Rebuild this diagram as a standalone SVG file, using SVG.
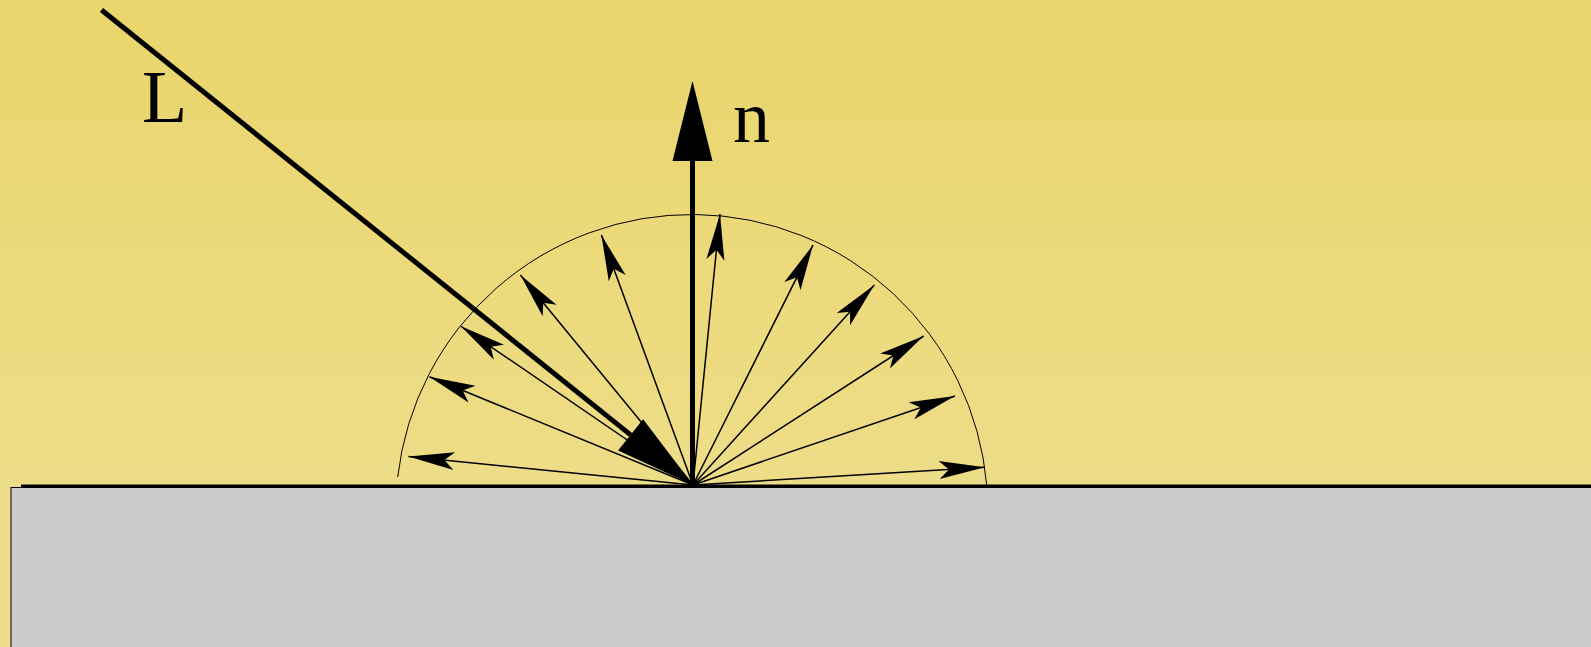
<svg xmlns="http://www.w3.org/2000/svg" width="1591" height="647" viewBox="0 0 1591 647">
  <style>
    .thin { stroke: #000; stroke-width: 1.5; fill: none; marker-end: url(#barb); }
    .thick { stroke: #000; stroke-width: 5; fill: none; marker-end: url(#big); }
    .lbl { font-family: "Liberation Serif", "Times New Roman", serif; font-size: 74px; fill: #000; }
  </style>
  <defs>
    <linearGradient id="bg" x1="0" y1="0" x2="0" y2="486" gradientUnits="userSpaceOnUse">
      <stop offset="0" stop-color="#e9d56b"/>
      <stop offset="1" stop-color="#eedd88"/>
    </linearGradient>
    <marker id="barb" markerUnits="userSpaceOnUse" viewBox="-48 -10 50 20" refX="0" refY="0" markerWidth="50" markerHeight="20" orient="auto" overflow="visible">
      <path d="M0,0 L-46,-9 L-36,0 L-46,9 Z" fill="#000"/>
    </marker>
    <marker id="big" markerUnits="userSpaceOnUse" viewBox="0 -21 82 42" refX="0" refY="0" markerWidth="82" markerHeight="42" orient="auto" overflow="visible">
      <path d="M0,-20 L80,0 L0,20 Z" fill="#000"/>
    </marker>
  </defs>
  <rect id="background" x="0" y="0" width="1591" height="647" fill="url(#bg)"/>
  <g id="surface">
    <rect x="11" y="487.5" width="1590" height="170" fill="#cccccc" stroke="#000" stroke-width="1"/>
    <line x1="21" y1="486" x2="1591" y2="486" stroke="#000" stroke-width="3"/>
  </g>
  <g id="hemisphere">
    <path d="M397.7,477 A296,296 0 0 1 986.7,485" fill="none" stroke="#000" stroke-width="1"/>
  </g>
  <g id="connectors">
    <line class="thin" x1="693" y1="485" x2="408.5" y2="456.5"/>
    <line class="thin" x1="693" y1="485" x2="429.4" y2="376.7"/>
    <line class="thin" x1="693" y1="485" x2="461" y2="326.3"/>
    <line class="thin" x1="693" y1="485" x2="520.4" y2="275"/>
    <line class="thin" x1="693" y1="485" x2="601.4" y2="235"/>
    <line class="thin" x1="693" y1="485" x2="720" y2="214"/>
    <line class="thin" x1="693" y1="485" x2="813" y2="245"/>
    <line class="thin" x1="693" y1="485" x2="874.3" y2="285"/>
    <line class="thin" x1="693" y1="485" x2="923.7" y2="336"/>
    <line class="thin" x1="693" y1="485" x2="955" y2="396"/>
    <line class="thin" x1="693" y1="485" x2="985" y2="467.3"/>
    <line id="normal" class="thick" x1="692.5" y1="485" x2="692.5" y2="161"/>
    <line id="light" class="thick" x1="101.5" y1="10" x2="630.6" y2="434.9"/>
  </g>
  <g id="label-L"><text class="lbl" x="142" y="122">L</text></g>
  <g id="label-n"><text class="lbl" x="733" y="142">n</text></g>
</svg>
